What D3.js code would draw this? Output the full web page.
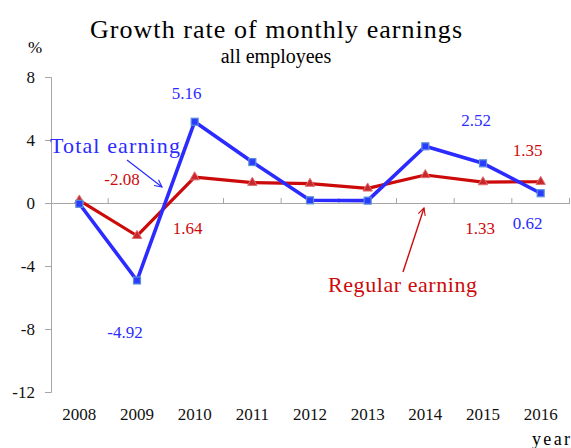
<!DOCTYPE html>
<html lang="en">
<head>
  <meta charset="UTF-8">
  <script src="https://d3js.org/d3.v7.min.js"></script>
  <title>Growth rate of monthly earnings</title>
  <style>
    body { margin: 0; background: #fff; }
    svg { display: block; }
  </style>
</head>
<body>
  <svg width="571" height="448"></svg>
  <script>
    // data
    const years = ["2008", "2009", "2010", "2011", "2012", "2013", "2014", "2015", "2016"];
    const totalEarning = [-0.05, -4.92, 5.16, 2.6, 0.17, 0.15, 3.6, 2.52, 0.62];
    const regularEarning = [0.17, -2.08, 1.64, 1.29, 1.23, 0.93, 1.78, 1.33, 1.35];
    const yTicks = [-12, -8, -4, 0, 4, 8];

    // which values carry a label, and where the label sits relative to the point
    const totalLabels = [
      { year: "2009", dx: -12, dy: 58 },
      { year: "2010", dx: -8, dy: -23 },
      { year: "2015", dx: -7, dy: -37 },
      { year: "2016", dx: -13, dy: 36 }
    ];
    const regularLabels = [
      { year: "2009", dx: -15, dy: -51 },
      { year: "2010", dx: -7, dy: 57 },
      { year: "2015", dx: -3, dy: 52 },
      { year: "2016", dx: -13, dy: -26 }
    ];

    const serif = "'Liberation Serif', 'Times New Roman', serif";
    const blue = "#2b2bff";
    const red = "#cc0a0a";

    const svg = d3.select("svg");

    const x = d3.scaleBand().domain(years).range([50.5, 569.5]);
    const cx = d => x(d) + x.bandwidth() / 2;
    const y = d3.scaleLinear().domain([-12, 8]).range([392, 77]);

    // spaced-out serif text, like the wide CJK-font latin in the original
    const spaced = (sel, size, len) => sel
      .attr("textLength", len).attr("lengthAdjust", "spacing")
      .style("font-family", serif).style("font-size", size + "px");

    // title
    svg.append("text")
      .attr("x", 90).attr("y", 38)
      .call(spaced, 26, 372)
      .text("Growth rate of monthly earnings");

    svg.append("text")
      .attr("x", 276).attr("y", 63)
      .attr("text-anchor", "middle")
      .style("font-family", serif).style("font-size", "20px")
      .text("all employees");

    svg.append("text")
      .attr("x", 35).attr("y", 53)
      .attr("text-anchor", "middle")
      .style("font-family", serif).style("font-size", "17px")
      .text("%");

    // y axis
    const yAxis = d3.axisLeft(y).tickValues(yTicks).tickSize(6).tickPadding(10)
      .tickFormat(d => String(d));
    const yG = svg.append("g").attr("transform", "translate(51,0)").call(yAxis);
    yG.selectAll("path, line").attr("stroke", "#a6a6a6");
    yG.selectAll("text").style("font-family", serif).style("font-size", "17px").attr("fill", "#111");

    // zero line with category ticks pointing up
    const zeroAxis = d3.axisTop(x).tickSize(0).tickFormat("");
    const zG = svg.append("g").attr("transform", `translate(0,${y(0)})`).call(zeroAxis);
    zG.select(".domain").attr("stroke", "#a6a6a6");
    zG.selectAll(".sep")
      .data(years.slice(1).concat(["end"]))
      .enter().append("line")
      .attr("class", "sep")
      .attr("x1", d => d === "end" ? x.range()[1] : x(d))
      .attr("x2", d => d === "end" ? x.range()[1] : x(d))
      .attr("y1", 0).attr("y2", -5)
      .attr("stroke", "#a6a6a6");

    // year labels along the bottom
    const xAxis = d3.axisBottom(x).tickSize(0).tickPadding(0);
    const xG = svg.append("g").attr("transform", "translate(0,408)").call(xAxis);
    xG.select(".domain").remove();
    xG.selectAll("text").style("font-family", serif).style("font-size", "17px").attr("fill", "#111");

    svg.append("text")
      .attr("x", 532).attr("y", 445)
      .call(spaced, 18, 38)
      .text("year");

    // lines
    const series = [
      { name: "regular", values: regularEarning, color: red, width: 3.2 },
      { name: "total", values: totalEarning, color: blue, width: 3.6 }
    ];
    const line = d3.line().x((d, i) => cx(years[i])).y(d => y(d));

    // draw regular first, then total on top
    series.forEach(s => {
      svg.append("path")
        .attr("d", line(s.values))
        .attr("fill", "none")
        .attr("stroke", s.color)
        .attr("stroke-width", s.width)
        .attr("stroke-linejoin", "round");
    });

    svg.selectAll("path.tri")
      .data(regularEarning)
      .enter().append("path")
      .attr("class", "tri")
      .attr("d", d3.symbol().type(d3.symbolTriangle).size(38))
      .attr("transform", (d, i) => `translate(${cx(years[i])},${y(d)})`)
      .attr("fill", "#c8282a")
      .attr("stroke", "#e07070")
      .attr("stroke-width", 1);

    svg.selectAll("rect.sq")
      .data(totalEarning)
      .enter().append("rect")
      .attr("class", "sq")
      .attr("x", (d, i) => cx(years[i]) - 3.5)
      .attr("y", d => y(d) - 3.5)
      .attr("width", 7).attr("height", 7)
      .attr("fill", "#2a3cff")
      .attr("stroke", "#5b8fd8")
      .attr("stroke-width", 1.2);

    // value labels
    const drawLabels = (spots, values, color) => {
      svg.selectAll(null)
        .data(spots)
        .enter().append("text")
        .attr("x", d => cx(d.year) + d.dx)
        .attr("y", d => y(values[years.indexOf(d.year)]) + d.dy)
        .attr("text-anchor", "middle")
        .style("font-family", serif).style("font-size", "17px")
        .attr("fill", color)
        .text(d => values[years.indexOf(d.year)].toFixed(2));
    };
    drawLabels(totalLabels, totalEarning, blue);
    drawLabels(regularLabels, regularEarning, red);

    // series name callouts with arrows
    const defs = svg.append("defs");
    [["arrowBlue", blue], ["arrowRed", red]].forEach(([id, c]) => {
      defs.append("marker")
        .attr("id", id)
        .attr("viewBox", "0 0 10 10")
        .attr("refX", 9).attr("refY", 5)
        .attr("markerWidth", 9).attr("markerHeight", 9)
        .attr("markerUnits", "userSpaceOnUse")
        .attr("orient", "auto")
        .append("path")
        .attr("d", "M1,1 L9,5 L1,9")
        .attr("fill", "none")
        .attr("stroke", c)
        .attr("stroke-width", 1.2);
    });

    svg.append("text")
      .attr("x", 50).attr("y", 153)
      .call(spaced, 22, 130)
      .attr("fill", blue)
      .text("Total earning");

    svg.append("line")
      .attr("x1", 127).attr("y1", 160)
      .attr("x2", 162).attr("y2", 187)
      .attr("stroke", blue).attr("stroke-width", 1.2)
      .attr("marker-end", "url(#arrowBlue)");

    svg.append("text")
      .attr("x", 328).attr("y", 292)
      .call(spaced, 22, 149)
      .attr("fill", red)
      .text("Regular earning");

    svg.append("line")
      .attr("x1", 403).attr("y1", 272)
      .attr("x2", 424).attr("y2", 208)
      .attr("stroke", red).attr("stroke-width", 1.4)
      .attr("marker-end", "url(#arrowRed)");
  </script>
</body>
</html>
